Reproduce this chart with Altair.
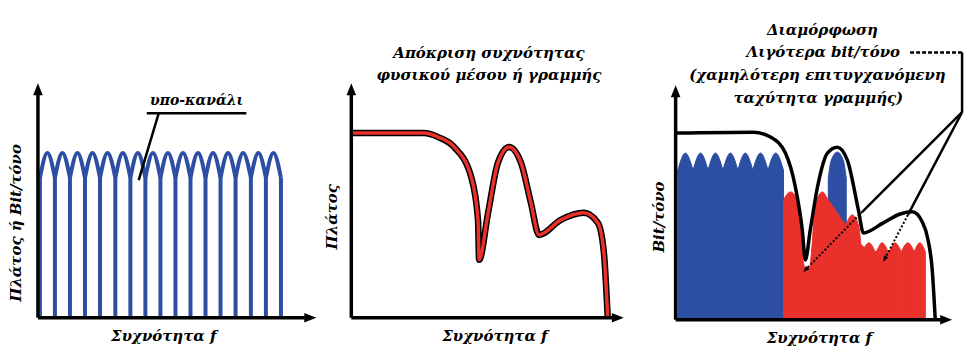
import altair as alt
import pandas as pd

BLUE = "#2c4ea3"
RED = "#e9302b"
FONT = "DejaVu Serif"

# ---------------- Panel 1: sub-channels ----------------
p1_line_x = [0.7, 6.1, 11.5, 16.9, 22.3, 27.8, 33.2, 38.6, 44.0, 49.4, 54.8,
             60.2, 65.6, 71.0, 76.5, 81.9, 87.3]
p1_peak_x = [3.4, 8.8, 14.2, 19.6, 25.0, 30.5, 35.9, 41.3, 46.7, 52.1, 57.5,
             62.9, 68.3, 73.7, 79.2, 84.6]
p1_cusp_y = 59.6
p1_peak_y = 70.2

# ---------------- Panel 2: frequency response ----------------
p2_x = [0, 26.7, 31.9, 37.7, 44.0, 46.5, 46.9, 50.2, 53.8, 57.9, 62.3, 65.9,
        68.9, 76.9, 85.3, 90.5, 92.7, 94.1]
p2_y = [78.7, 78.7, 77.0, 72.8, 60.0, 41.7, 24.7, 44.7, 66.0, 72.8, 66.0, 49.0,
        35.3, 41.7, 44.7, 40.4, 27.7, 0]

# ---------------- Panel 3: bit loading ----------------
p3_resp_x = [0, 28.2, 34.3, 39.7, 43.3, 45.8, 46.9, 48.7, 51.3, 54.9, 58.5, 62.1,
             66.1, 67.9, 75.1, 81.2, 85.6, 89.2, 91.3, 92.8, 93.9]
p3_resp_y = [79.6, 80.0, 77.9, 71.1, 56.6, 38.3, 25.5, 38.3, 56.6, 71.1, 73.6, 68.1,
             46.8, 37.0, 41.3, 45.1, 46.0, 41.7, 34.0, 21.3, 0]

p3_blue_edges = [0.8, 6.3, 11.7, 17.1, 22.5, 27.9, 33.4, 39.0]
p3_blue_peaks = [3.5, 9.0, 14.4, 19.8, 25.2, 30.7, 36.2]
p3_blue_cusp_y = 63.8
p3_blue_peak_y = 71.1

p3_col_x = [55.2, 56.3, 58.5, 60.6, 61.7]
p3_col_y = [60.4, 68.1, 71.5, 68.1, 60.4]

p3_red1_x = [39.0, 41.5, 44.0, 45.5, 46.2, 46.9, 48.4, 49.5, 50.5, 53.1, 55.2]
p3_red1_y = [51.1, 54.5, 51.1, 40.4, 24.7, 22.1, 22.1, 34.0, 48.9, 54.5, 51.1]

p3_red2_x = [61.7, 63.9, 66.2, 67.5]
p3_red2_y = [40.9, 44.7, 40.0, 28.9]

p3_red_edges = [67.5, 72.2, 76.9, 81.6, 86.3, 90.3]
p3_red_peaks = [69.9, 74.6, 79.3, 84.0, 88.3]
p3_red_cusp_y = 28.9
p3_red_peak_y = 32.8

AX_TITLE = "Συχνότητα f"
Y_TITLES = ["Πλάτος ή Bit/τόνο", "Πλάτος", "Bit/τόνο"]
P1_NOTE = "υπο-κανάλι"
P2_TITLE = ["Απόκριση συχνότητας", "φυσικού μέσου ή γραμμής"]
P3_TITLE = ["Διαμόρφωση", "Λιγότερα bit/τόνο", "(χαμηλότερη επιτυγχανόμενη",
            "ταχύτητα γραμμής)"]


def hump_rows(edges, peaks, cusp_y, peak_y, tag):
    rows = []
    for i, px in enumerate(peaks):
        rows += [{"h": f"{tag}{i}", "x": edges[i], "y": cusp_y},
                 {"h": f"{tag}{i}", "x": px, "y": peak_y},
                 {"h": f"{tag}{i}", "x": edges[i + 1], "y": cusp_y}]
    return rows


def panel(dom_x, dom_y, width, height, layers_fn):
    sx = alt.Scale(domain=dom_x, nice=False, zero=False)
    sy = alt.Scale(domain=dom_y, nice=False, zero=False)
    X = alt.X("x:Q", scale=sx, axis=None)
    Y = alt.Y("y:Q", scale=sy, axis=None)
    layers = layers_fn(X, Y)
    return alt.layer(*layers).properties(width=width, height=height)


UP = "M0,0L0.4,1L-0.4,1Z"
RIGHT = "M0,0L-1,-0.4L-1,0.4Z"


def axes_layers(X, Y, xtitle_x, ytitle, ytitle_x, ytitle_y):
    ax = pd.DataFrame([{"x": 0, "y": 0, "x2": 97, "y2": 0},
                       {"x": 0, "y": 0, "x2": 0, "y2": 96}])
    rules = alt.Chart(ax).mark_rule(color="black", strokeWidth=3.5).encode(
        x=X, y=Y, x2="x2:Q", y2="y2:Q")
    up = alt.Chart(pd.DataFrame([{"x": 0, "y": 100}])).mark_point(
        shape=UP, filled=True, color="black", size=576, opacity=1).encode(x=X, y=Y)
    right = alt.Chart(pd.DataFrame([{"x": 100, "y": 0}])).mark_point(
        shape=RIGHT, filled=True, color="black", size=576, opacity=1).encode(x=X, y=Y)
    xt = alt.Chart(pd.DataFrame([{"x": xtitle_x, "y": -8.0, "t": AX_TITLE}])).mark_text(
        font=FONT, fontStyle="italic", fontWeight="bold", fontSize=15,
        color="black").encode(x=X, y=Y, text="t:N")
    yt = alt.Chart(pd.DataFrame([{"x": ytitle_x, "y": ytitle_y, "t": ytitle}])).mark_text(
        font=FONT, fontStyle="italic", fontWeight="bold", fontSize=15, angle=270,
        color="black").encode(x=X, y=Y, text="t:N")
    return [rules, up, right, xt, yt]


def p1_layers(X, Y):
    vl = pd.DataFrame({"x": p1_line_x, "y": [0] * len(p1_line_x),
                       "y2": [p1_cusp_y] * len(p1_line_x)})
    verts = alt.Chart(vl).mark_rule(color=BLUE, strokeWidth=4).encode(x=X, y=Y, y2="y2:Q")
    hm = pd.DataFrame(hump_rows(p1_line_x, p1_peak_x, p1_cusp_y, p1_peak_y, "a"))
    humps = alt.Chart(hm).mark_line(color=BLUE, strokeWidth=4, interpolate="monotone").encode(
        x=X, y=Y, detail="h:N")
    note_lines = pd.DataFrame([{"x": 39.1, "y": 87.2, "x2": 74.9, "y2": 87.2},
                               {"x": 43.4, "y": 87.2, "x2": 36.2, "y2": 58.7}])
    nl = alt.Chart(note_lines).mark_rule(color="black", strokeWidth=2.5).encode(
        x=X, y=Y, x2="x2:Q", y2="y2:Q")
    nt = alt.Chart(pd.DataFrame([{"x": 57.0, "y": 92.6, "t": P1_NOTE}])).mark_text(
        font=FONT, fontStyle="italic", fontWeight="bold", fontSize=14,
        color="black").encode(x=X, y=Y, text="t:N")
    return [verts, humps, nl, nt] + axes_layers(X, Y, 45.2, Y_TITLES[0], -8.0, 40.4)


def p2_layers(X, Y):
    df = pd.DataFrame({"x": p2_x, "y": p2_y, "o": list(range(len(p2_x)))})
    outline = alt.Chart(df).mark_line(color="black", strokeWidth=6.5,
                                      interpolate="monotone").encode(x=X, y=Y, order="o:Q")
    red = alt.Chart(df).mark_line(color=RED, strokeWidth=3.5,
                                  interpolate="monotone").encode(x=X, y=Y, order="o:Q")
    tt = pd.DataFrame([{"x": 50.5, "y": 112.8, "t": P2_TITLE[0]},
                       {"x": 50.5, "y": 103.4, "t": P2_TITLE[1]}])
    title = alt.Chart(tt).mark_text(font=FONT, fontStyle="italic", fontWeight="bold",
                                    fontSize=15, color="black").encode(x=X, y=Y, text="t:N")
    return [outline, red, title] + axes_layers(X, Y, 52.7, Y_TITLES[1], -7.0, 43.0)


def p3_layers(X, Y):
    y2 = alt.datum(0)
    blue = pd.DataFrame(hump_rows(p3_blue_edges, p3_blue_peaks, p3_blue_cusp_y,
                                  p3_blue_peak_y, "b"))
    blue_a = alt.Chart(blue).mark_area(color=BLUE, stroke=BLUE, strokeWidth=1,
                                       interpolate="monotone").encode(
        x=X, y=Y, y2=y2, detail="h:N")
    col = pd.DataFrame({"x": p3_col_x, "y": p3_col_y})
    col_a = alt.Chart(col).mark_area(color=BLUE, stroke=BLUE, strokeWidth=1,
                                     interpolate="monotone").encode(x=X, y=Y, y2=y2)
    red_rows = [{"h": "r1", "x": a, "y": b} for a, b in zip(p3_red1_x, p3_red1_y)]
    red_rows += [{"h": "r2", "x": a, "y": b} for a, b in zip(p3_red2_x, p3_red2_y)]
    red_rows += hump_rows(p3_red_edges, p3_red_peaks, p3_red_cusp_y, p3_red_peak_y, "r")
    red_a = alt.Chart(pd.DataFrame(red_rows)).mark_area(
        color=RED, stroke=RED, strokeWidth=1, interpolate="monotone").encode(
        x=X, y=Y, y2=y2, detail="h:N")
    resp = pd.DataFrame({"x": p3_resp_x, "y": p3_resp_y, "o": list(range(len(p3_resp_x)))})
    resp_l = alt.Chart(resp).mark_line(color="black", strokeWidth=3.5,
                                       interpolate="monotone").encode(x=X, y=Y, order="o:Q")
    solid = pd.DataFrame([{"x": 103.6, "y": 114.0, "x2": 103.6, "y2": 88.5},
                          {"x": 103.6, "y": 88.5, "x2": 67.5, "y2": 46.0},
                          {"x": 103.6, "y": 88.5, "x2": 84.0, "y2": 44.7}])
    solid_l = alt.Chart(solid).mark_rule(color="black", strokeWidth=2.5).encode(
        x=X, y=Y, x2="x2:Q", y2="y2:Q")
    dash = pd.DataFrame([{"x": 84.8, "y": 114.0, "x2": 103.6, "y2": 114.0}])
    dash_l = alt.Chart(dash).mark_rule(color="black", strokeWidth=2.5,
                                       strokeDash=[4, 2]).encode(x=X, y=Y, x2="x2:Q", y2="y2:Q")
    dots = pd.DataFrame([{"x": 67.5, "y": 46.0, "x2": 46.6, "y2": 20.9},
                         {"x": 84.0, "y": 44.7, "x2": 75.4, "y2": 25.4}])
    dots_l = alt.Chart(dots).mark_rule(color="black", strokeWidth=2,
                                       strokeDash=[2, 2]).encode(x=X, y=Y, x2="x2:Q", y2="y2:Q")
    heads = [alt.Chart(pd.DataFrame([{"x": 46.2, "y": 20.4}])).mark_point(
                shape=UP, filled=True, color="black", size=150, angle=225, opacity=1
             ).encode(x=X, y=Y),
             alt.Chart(pd.DataFrame([{"x": 75.1, "y": 24.7}])).mark_point(
                shape=UP, filled=True, color="black", size=150, angle=208, opacity=1
             ).encode(x=X, y=Y)]
    tt = pd.DataFrame([{"x": 53.1, "y": 123.4, "t": P3_TITLE[0]},
                       {"x": 53.4, "y": 114.0, "t": P3_TITLE[1]},
                       {"x": 51.3, "y": 104.3, "t": P3_TITLE[2]},
                       {"x": 51.6, "y": 94.5, "t": P3_TITLE[3]}])
    title = alt.Chart(tt).mark_text(font=FONT, fontStyle="italic", fontWeight="bold",
                                    fontSize=15, color="black").encode(x=X, y=Y, text="t:N")
    return ([blue_a, col_a, red_a, resp_l, solid_l, dash_l, dots_l] + heads + [title]
            + axes_layers(X, Y, 52.0, Y_TITLES[2], -6.1, 43.8))


c1 = panel([-10.04, 105.4], [-11.5, 131.9], 322, 337, p1_layers)
c2 = panel([-7.33, 106.2], [-11.5, 131.9], 310, 337, p2_layers)
c3 = panel([-12.64, 106.1], [-10.64, 132.8], 329, 337, p3_layers)

chart = alt.hconcat(c1, c2, c3, spacing=0, bounds="flush").properties(
    padding=0, background="white").configure_view(stroke=None)

chart.save("out.html", embed_options={"renderer": "svg", "actions": False})
